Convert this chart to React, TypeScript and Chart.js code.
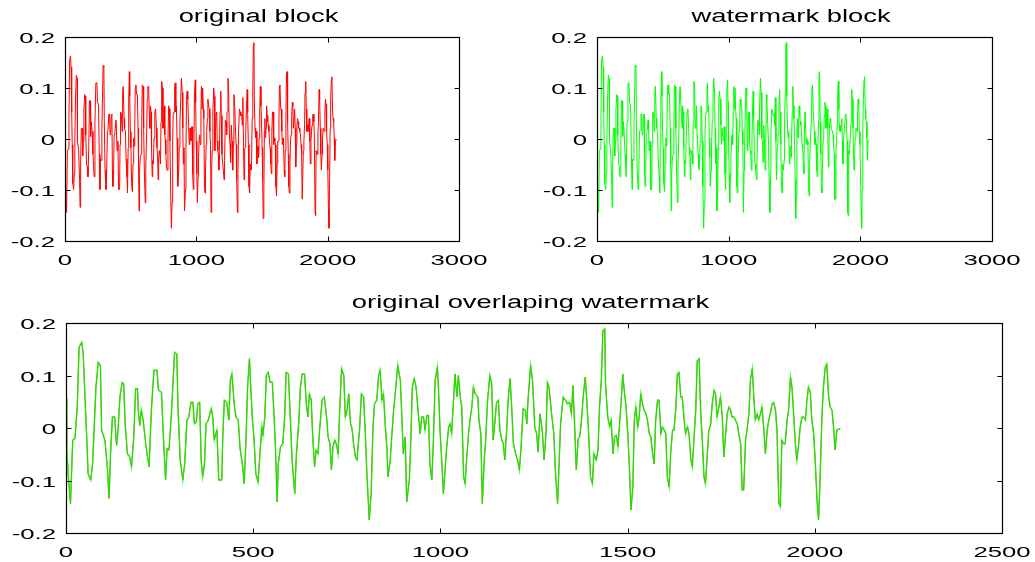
import React, { useEffect, useRef } from "react";
import { Chart, registerables } from "chart.js";

Chart.register(...registerables);

// [sample index, amplitude]
const blockSamples: [number, number][] = [
  [0, 0.056], [2, -0.036], [6, -0.09], [12, -0.144], [18, -0.023], [24, -0.02], [30, 0.04], [35, 0.154], [42, 0.163], [46, 0.141],
  [51, 0.053], [55, -0.011], [59, -0.087], [66, -0.099], [71, -0.068], [75, -0.004], [80, 0.078], [86, 0.125], [92, 0.119], [95, -0.004],
  [104, -0.023], [111, -0.08], [115, -0.134], [119, -0.049], [124, 0.021], [130, 0.021], [135, -0.033], [139, -0.004], [144, 0.059], [150, 0.087],
  [154, 0.084], [158, 0.008], [164, -0.049], [170, -0.055], [175, -0.074], [181, -0.017], [186, 0.075], [191, 0.075], [193, 0.034], [197, 0.005],
  [201, 0.034], [206, 0.015], [213, -0.03], [217, -0.052], [222, -0.074], [228, 0.034], [235, 0.11], [243, 0.11], [247, 0.072], [255, 0.068],
  [261, -0.03], [266, -0.099], [270, -0.039], [275, -0.042], [281, 0.021], [290, 0.144], [296, 0.141], [299, 0.04], [305, -0.061], [312, -0.099],
  [317, -0.068], [323, 0.015], [327, 0.018], [334, 0.049], [339, 0.049], [343, 0.008], [348, 0.011], [352, 0.046], [357, 0.049], [361, -0.061],
  [365, -0.093], [370, -0.068], [374, 0.008], [380, 0.015], [388, 0.037], [392, 0.021], [396, -0.023], [403, -0.004], [408, -0.099], [416, -0.099],
  [419, -0.011], [423, 0.053], [429, 0.049], [435, 0.015], [439, 0.091], [443, 0.103], [450, 0.04], [454, 0.021], [460, 0.015], [465, -0.039],
  [472, -0.074], [476, -0.106], [481, -0.017], [485, 0.078], [490, 0.132],
  [493, 0.084], [498, 0.015], [502, -0.017], [507, -0.087], [513, -0.103], [518, -0.049], [523, 0.002], [526, -0.014], [531, 0.021], [535, 0.1],
  [540, 0.106], [545, 0.087], [551, 0.087], [556, 0.021], [560, -0.049], [564, -0.141], [567, -0.068], [573, -0.036], [579, -0.03], [584, 0.021],
  [588, 0.106], [594, 0.103], [599, 0.021], [604, -0.061], [611, -0.125], [615, -0.055], [622, 0.015], [626, 0.078], [631, 0.103], [637, 0.103],
  [642, 0.046], [646, 0.021], [650, 0.065], [655, 0.053], [659, -0.017], [664, -0.074], [668, -0.042], [673, -0.049], [678, 0.002], [684, 0.053],
  [690, 0.059], [696, 0.021], [700, -0.017], [705, -0.03], [709, -0.08], [713, -0.036], [718, -0.023], [722, -0.03], [727, -0.049], [731, 0.034],
  [736, 0.113], [742, 0.1], [746, 0.021], [751, 0.034], [755, 0.065], [760, 0.008], [764, -0.001], [768, -0.03], [773, -0.055], [777, -0.061],
  [784, -0.004], [789, 0.065], [795, 0.059], [799, -0.004], [804, -0.093], [810, -0.175], [815, -0.125], [820, 0.002], [824, 0.046], [830, 0.053],
  [835, 0.1], [839, 0.11], [844, 0.053], [848, 0.065], [853, 0.002], [857, -0.036], [860, -0.093], [866, -0.061], [870, -0.017], [875, 0.034],
  [881, 0.078], [886, 0.119], [893, 0.091], [897, 0.021], [901, -0.049], [906, -0.017], [910, -0.141], [917, -0.099], [921, -0.023], [925, 0.078],
  [930, 0.094], [935, 0.078], [941, 0.027], [946, -0.011], [950, 0.021], [955, 0.021], [959, -0.004], [964, 0.024], [968, 0.024], [972, -0.068],
  [977, -0.099], [981, -0.03], [986, 0.091], [992, 0.116],
  [995, 0.072], [999, -0.004], [1004, -0.068], [1008, -0.125], [1013, -0.074], [1017, -0.036], [1022, 0.002], [1026, 0.008], [1030, -0.011], [1035, 0.053],
  [1039, 0.103], [1044, 0.059], [1048, 0.1], [1053, 0.059], [1057, 0.04], [1062, -0.093], [1066, -0.106], [1070, -0.061], [1075, -0.011], [1079, 0.015],
  [1084, 0.04], [1088, 0.078], [1093, 0.065], [1100, 0.059], [1103, 0.015], [1108, -0.011], [1112, -0.144], [1117, -0.061], [1121, -0.023], [1126, 0.053],
  [1132, 0.1], [1137, 0.084], [1141, -0.023], [1146, 0.015], [1150, 0.049], [1155, 0.053], [1159, -0.004], [1164, -0.023], [1168, -0.03], [1172, -0.061],
  [1177, -0.004], [1181, 0.053], [1186, 0.094], [1190, 0.046], [1195, -0.03], [1201, -0.049], [1206, -0.061], [1211, -0.08], [1215, -0.042], [1221, 0.037],
  [1227, 0.034], [1231, 0.008], [1234, 0.053], [1241, 0.119], [1246, 0.091], [1252, 0.002], [1257, -0.011], [1261, -0.046], [1266, 0.027], [1272, -0.004],
  [1277, -0.061], [1282, -0.011], [1286, 0.087], [1290, 0.078], [1297, 0.027], [1303, -0.011], [1307, -0.08], [1313, -0.144], [1317, -0.068], [1321, 0.008],
  [1328, 0.059], [1334, 0.053], [1339, 0.046], [1345, 0.049], [1350, 0.027], [1354, 0.081], [1359, -0.004], [1363, -0.08], [1368, -0.02], [1372, -0.017],
  [1376, 0.008], [1382, 0.065], [1387, 0.097], [1391, 0.053], [1396, -0.011], [1401, -0.093], [1406, -0.106], [1410, -0.049], [1416, -0.061], [1421, -0.042],
  [1425, 0.04], [1430, 0.094], [1434, 0.185], [1439, 0.189], [1441, 0.084], [1447, 0.021], [1452, 0.002], [1456, 0.015], [1461, -0.049], [1465, -0.017],
  [1470, -0.014], [1474, -0.036], [1478, 0.002], [1483, 0.053], [1487, 0.103], [1492, 0.065], [1496, 0.04], [1501, -0.017], [1505, -0.08], [1509, -0.156],
  [1514, -0.112],
  [1518, 0.015], [1522, 0.04], [1527, 0.002], [1531, 0.021], [1535, 0.065], [1540, 0.046], [1544, 0.034], [1549, 0.027], [1553, 0.015], [1558, -0.011],
  [1562, -0.017], [1567, -0.049], [1571, -0.068], [1575, 0.015], [1580, 0.053], [1584, 0.053], [1589, -0.011], [1593, 0.002], [1598, -0.004], [1602, -0.011],
  [1606, -0.093], [1611, -0.112], [1615, -0.049], [1620, -0.004], [1624, -0.004], [1629, 0.04], [1633, 0.103], [1637, 0.106], [1642, 0.059], [1646, 0.059],
  [1651, 0.015], [1655, -0.011], [1660, 0.002], [1664, -0.011], [1669, -0.061], [1673, -0.074], [1677, -0.023], [1682, 0.034], [1686, 0.128], [1691, 0.132],
  [1695, 0.034], [1700, -0.03], [1704, -0.093], [1708, -0.106], [1713, -0.049], [1717, -0.004], [1722, 0.008], [1726, 0.046], [1731, 0.072], [1735, 0.065],
  [1739, 0.021], [1744, 0.04], [1748, 0.059], [1753, 0.021], [1757, -0.055], [1762, -0.011], [1766, 0.027], [1771, 0.04], [1775, 0.034], [1779, 0.021],
  [1784, 0.021], [1788, 0.015], [1793, 0.008], [1797, -0.011], [1802, -0.03], [1806, -0.118], [1810, -0.118], [1815, -0.023], [1819, -0.004], [1824, 0.027],
  [1828, 0.091], [1833, 0.113], [1837, 0.059], [1841, 0.015], [1846, 0.027], [1850, 0.015], [1855, 0.027], [1859, 0.04], [1864, -0.004], [1868, -0.049],
  [1873, -0.004], [1877, 0.015], [1881, 0.027], [1886, 0.046], [1890, 0.049], [1895, 0.034], [1899, -0.004], [1904, -0.144], [1908, -0.15], [1912, -0.023],
  [1917, -0.03], [1921, -0.03], [1926, 0.015], [1930, 0.034], [1935, 0.097], [1939, 0.078], [1944, 0.021], [1948, -0.03], [1952, -0.061], [1957, -0.03],
  [1961, 0.002], [1966, 0.021], [1970, 0.021], [1975, 0.015], [1979, 0.053], [1983, 0.078], [1988, 0.068], [1992, 0.015], [1997, -0.011], [2001, -0.061],
  [2006, -0.137], [2010, -0.175], [2014, -0.099], [2019, 0.021], [2023, 0.078], [2028, 0.116], [2032, 0.122], [2037, 0.059], [2041, 0.04], [2046, 0.034],
  [2050, 0.002], [2054, -0.042], [2059, -0.004], [2068, -0.001],
];

const sampleIndex = blockSamples.map((p) => p[0]);
const originalBlock = blockSamples.map((p) => p[1]);
// the watermarked block is visually identical to the original in the reference
const watermarkBlock = blockSamples.map((p) => p[1]);

const xTicksTop = [0, 1000, 2000, 3000];
const xTicksBottom = [0, 500, 1000, 1500, 2000, 2500];
const yTicks = [-0.2, -0.1, 0, 0.1, 0.2];
const yTickLabels = ["-0.2", "-0.1", "0", "0.1", "0.2"];
const titles = ["original block", "watermark block", "original overlaping watermark"];

const W = 1035;
const H = 562;
const FONT = '"Liberation Sans", Arial, Helvetica, sans-serif';
const TICK_FONT = `15.5px ${FONT}`;
const TICK_SX = 1.66;
const TITLE_FONT = `18px ${FONT}`;
const TITLE_SX = 1.52;

function drawStretched(
  ctx: CanvasRenderingContext2D,
  text: string,
  x: number,
  y: number,
  align: "left" | "center" | "right",
  sx: number,
  font: string
) {
  ctx.save();
  ctx.font = font;
  const w = ctx.measureText(text).width * sx;
  const left = align === "center" ? x - w / 2 : align === "right" ? x - w : x;
  ctx.translate(left, y);
  ctx.scale(sx, 1);
  ctx.textAlign = "left";
  ctx.textBaseline = "alphabetic";
  ctx.fillStyle = "#000";
  ctx.fillText(text, 0, 0);
  ctx.restore();
}

function framePlugin(title: string, xTicks: number[], xLabelOffset: number) {
  return {
    id: "matlabFrame",
    afterDraw(chart: any) {
      const ctx: CanvasRenderingContext2D = chart.ctx;
      const a = chart.chartArea;
      const xs = chart.scales.x;
      const ys = chart.scales.y;
      const L = Math.round(a.left) + 0.5;
      const R = Math.round(a.right) + 0.5;
      const T = Math.round(a.top) + 0.5;
      const B = Math.round(a.bottom) + 0.5;
      ctx.save();
      ctx.strokeStyle = "#000";
      ctx.lineWidth = 1.2;
      ctx.strokeRect(L, T, R - L, B - T);
      const tl = 5;
      ctx.lineWidth = 1;
      ctx.beginPath();
      xTicks.forEach((v) => {
        const px = Math.round(xs.getPixelForValue(v)) + 0.5;
        ctx.moveTo(px, B);
        ctx.lineTo(px, B - tl);
        ctx.moveTo(px, T);
        ctx.lineTo(px, T + tl);
      });
      yTicks.forEach((v) => {
        const py = Math.round(ys.getPixelForValue(v)) + 0.5;
        ctx.moveTo(L, py);
        ctx.lineTo(L + tl, py);
        ctx.moveTo(R, py);
        ctx.lineTo(R - tl, py);
      });
      ctx.stroke();
      ctx.restore();

      xTicks.forEach((v) => {
        drawStretched(ctx, String(v), xs.getPixelForValue(v), a.bottom + xLabelOffset, "center", TICK_SX, TICK_FONT);
      });
      yTicks.forEach((v, i) => {
        drawStretched(ctx, yTickLabels[i], a.left - 10, ys.getPixelForValue(v) + 6, "right", TICK_SX, TICK_FONT);
      });
      drawStretched(ctx, title, (a.left + a.right) / 2 - 3.5, a.top - 15, "center", TITLE_SX, TITLE_FONT);
    },
  };
}

type Area = { l: number; t: number; r: number; b: number };

function makeChart(
  canvas: HTMLCanvasElement,
  area: Area,
  xMax: number,
  xTicks: number[],
  title: string,
  xLabelOffset: number,
  datasets: any[]
) {
  return new Chart(canvas, {
    type: "line",
    data: { datasets },
    options: {
      animation: false,
      responsive: false,
      events: [],
      layout: { padding: { left: area.l, top: area.t, right: W - area.r, bottom: H - area.b } },
      plugins: { legend: { display: false }, tooltip: { enabled: false }, title: { display: false } },
      elements: { point: { radius: 0 }, line: { tension: 0 } },
      scales: {
        x: { type: "linear", min: 0, max: xMax, display: false },
        y: { type: "linear", min: -0.2, max: 0.2, display: false },
      },
    },
    plugins: [framePlugin(title, xTicks, xLabelOffset)],
  } as any);
}

function series(values: number[]) {
  return sampleIndex.map((x, i) => ({ x, y: values[i] }));
}

export default function App() {
  const c1 = useRef<HTMLCanvasElement>(null);
  const c2 = useRef<HTMLCanvasElement>(null);
  const c3 = useRef<HTMLCanvasElement>(null);

  useEffect(() => {
    const charts: Chart[] = [];
    if (c1.current && c2.current && c3.current) {
      charts.push(
        makeChart(c1.current, { l: 65, t: 37, r: 459, b: 241 }, 3000, xTicksTop, titles[0], 24, [
          { data: series(originalBlock), borderColor: "#ff0000", borderWidth: 1 },
        ])
      );
      charts.push(
        makeChart(c2.current, { l: 597, t: 37, r: 992, b: 241 }, 3000, xTicksTop, titles[1], 24, [
          { data: series(watermarkBlock), borderColor: "#00ff00", borderWidth: 1 },
        ])
      );
      charts.push(
        makeChart(c3.current, { l: 66, t: 323, r: 1002, b: 533 }, 2500, xTicksBottom, titles[2], 24, [
          { data: series(watermarkBlock), borderColor: "rgba(0,255,0,0.78)", borderWidth: 1.5 },
          { data: series(originalBlock), borderColor: "#e03010", borderWidth: 1 },
        ])
      );
    }
    return () => charts.forEach((c) => c.destroy());
  }, []);

  const cs: React.CSSProperties = { position: "absolute", left: 0, top: 0 };
  return (
    <div style={{ position: "absolute", left: 0, top: 0, width: W, height: H, background: "#fff" }}>
      <canvas ref={c1} width={W} height={H} style={cs} />
      <canvas ref={c2} width={W} height={H} style={cs} />
      <canvas ref={c3} width={W} height={H} style={cs} />
    </div>
  );
}
